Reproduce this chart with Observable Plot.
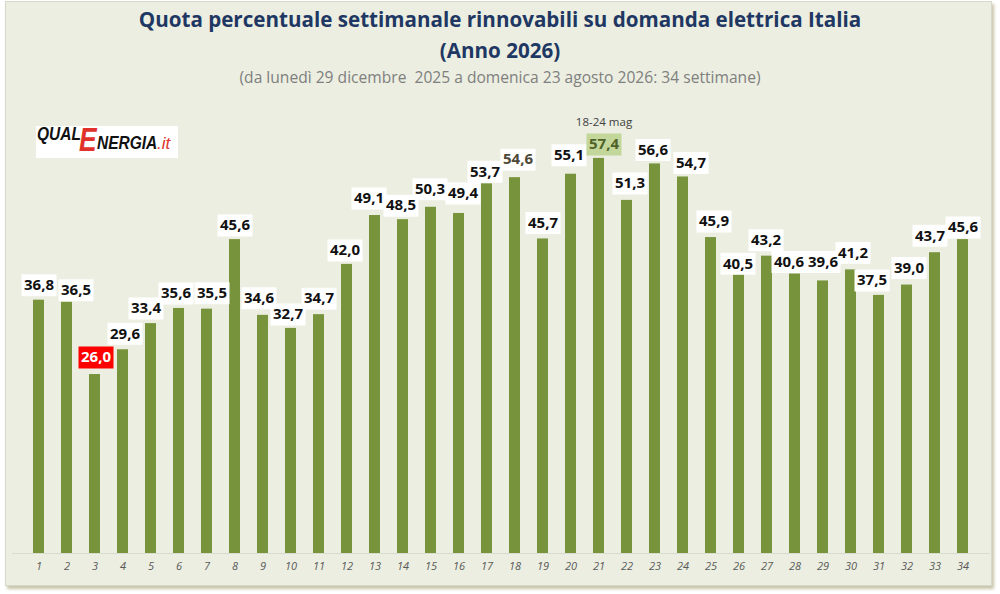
<!DOCTYPE html>
<html>
<head>
<meta charset="utf-8">
<script src="https://cdn.jsdelivr.net/npm/d3@7"></script>
<script src="https://cdn.jsdelivr.net/npm/@observablehq/plot@0.6"></script>
<style>
  html, body { margin: 0; padding: 0; background: #ffffff; }
  #wrap { position: relative; width: 1000px; height: 594px; overflow: hidden; font-family: "Open Sans", sans-serif; }
  #frame { position: absolute; left: 5px; top: 1px; width: 985px; height: 583px; background: #ebeee0; border: 1px solid #d6d8cc; box-shadow: 2px 3px 3px #c9c4a8; }
  .t1 { position: absolute; left: 0; width: 1000px; text-align: center; color: #1f3763; font-weight: 700; font-size: 20.6px; line-height: 28px; }
  .sub { position: absolute; left: 0; width: 1000px; text-align: center; color: #7f7f7f; font-size: 15.6px; line-height: 22px; white-space: pre; top: 66px; }
  #logo { position: absolute; left: 36px; top: 126px; width: 142px; height: 32px; background: #ffffff; }
  #logo span { position: absolute; font-family: "Liberation Sans", Arial, sans-serif; font-weight: 700; font-style: italic; transform-origin: left top; white-space: nowrap; }
  #chart { position: absolute; left: 0; top: 90px; }
</style>
</head>
<body>
<div id="wrap">
  <div id="frame"></div>
  <div class="t1" style="top:5px;">Quota percentuale settimanale rinnovabili su domanda elettrica Italia</div>
  <div class="t1" style="top:36px;">(Anno 2026)</div>
  <div class="sub">(da lunedì 29 dicembre  2025 a domenica 23 agosto 2026: 34 settimane)</div>
  <div id="logo">
    <span style="left:1px; top:-2px; font-size:18px; color:#111; transform:scaleX(0.86);">QUAL</span>
    <span style="left:43px; top:-5px; font-size:33px; color:#e0312b; transform:scaleX(0.8);">E</span>
    <span style="left:61px; top:7px; font-size:18px; color:#111; transform:scaleX(0.86);">NERGIA</span>
    <span style="left:121px; top:8px; font-size:17px; color:#e0312b; font-weight:400; transform:scaleX(1);">.it</span>
  </div>
  <div id="chart"></div>
</div>
<script>
const weeks = [1,2,3,4,5,6,7,8,9,10,11,12,13,14,15,16,17,18,19,20,21,22,23,24,25,26,27,28,29,30,31,32,33,34];
const shares = [36.8,36.5,26.0,29.6,33.4,35.6,35.5,45.6,34.6,32.7,34.7,42.0,49.1,48.5,50.3,49.4,53.7,54.6,45.7,55.1,57.4,51.3,56.6,54.7,45.9,40.5,43.2,40.6,39.6,41.2,37.5,39.0,43.7,45.6];
const minWeek = 3;
const maxWeek = 21;
const mutedWeek = 18;
const annotationWeeks = [21];
const annotationTexts = ["18-24 mag"];
// label placement nudges (px), as placed in the original chart to avoid overlaps
const labelNudgeX = [0,9,1,2,-5,-3,5,0,-4,-3,0,-2,-6,-2,-1,4,-2,3,0,-2,5,3,-2,8,3,-1,-1,-6,0,2,-7,2,-5,0];
const labelNudgeY = [-15,-12,-17,-16,-15,-15,-16,-14,-17,-14,-16,-14,-17,-14,-18,-20,-12,-18,-16,-19,-14,-17,-14,-14,-16,-11,-16,-12,-19,-17,-15,-17,-17,-12];

const data = weeks.map((w, i) => ({week: w, value: shares[i], label: shares[i].toFixed(1).replace(".", ","), nx: labelNudgeX[i], ny: labelNudgeY[i]}));
const notes = annotationWeeks.map((w, i) => ({week: w, value: shares[weeks.indexOf(w)], text: annotationTexts[i], nx: labelNudgeX[weeks.indexOf(w)]}));

const boxSymbol = {draw(ctx) { ctx.rect(-17.5, -11, 35, 22); }};
const boxFill = d => d.week === minWeek ? "#ff0000" : d.week === maxWeek ? "#c4d79b" : "#ffffff";
const textFill = d => d.week === minWeek ? "#ffffff" : d.week === maxWeek ? "#4f6228" : d.week === mutedWeek ? "#4d4838" : "#111111";

// render helper: shift each label by its own nudge
const nudged = (index, scales, values, dims, context, next) => {
  const g = next(index, scales, values, dims, context);
  const nodes = g.querySelectorAll("text, path");
  index.forEach((i, k) => {
    const n = nodes[k];
    if (n) {
      const prev = n.getAttribute("transform") || "";
      n.setAttribute("transform", `translate(${data[i].nx},${data[i].ny}) ${prev}`);
    }
  });
  return g;
};

const chart = Plot.plot({
  width: 1000,
  height: 490,
  marginLeft: 12,
  marginRight: 10,
  marginTop: 50,
  marginBottom: 27,
  style: {background: "transparent", fontFamily: "Open Sans, sans-serif"},
  x: {type: "band", domain: weeks, paddingInner: 0.6, paddingOuter: 0.3, label: null},
  y: {domain: [0, 60], axis: null},
  marks: [
    Plot.ruleY([0], {stroke: "#d9dbd0", strokeWidth: 1}),
    Plot.barY(data, {x: "week", y: "value", fill: "#77933c"}),
    Plot.dot(data, {x: "week", y: "value", symbol: boxSymbol, fill: boxFill, stroke: "none", render: nudged}),
    Plot.text(data, {x: "week", y: "value", text: "label", fill: textFill, fontWeight: 700, fontSize: 15, lineAnchor: "middle", render: nudged}),
    Plot.text(notes, {x: "week", y: "value", dx: notes[0].nx, dy: -36, text: "text", fill: "#404040", fontSize: 11.5, lineAnchor: "middle"}),
    Plot.axisX({tickSize: 0, tickPadding: 9, fontSize: 11, fontStyle: "italic", fill: "#595959", label: null})
  ]
});
document.getElementById("chart").appendChild(chart);
</script>
</body>
</html>
